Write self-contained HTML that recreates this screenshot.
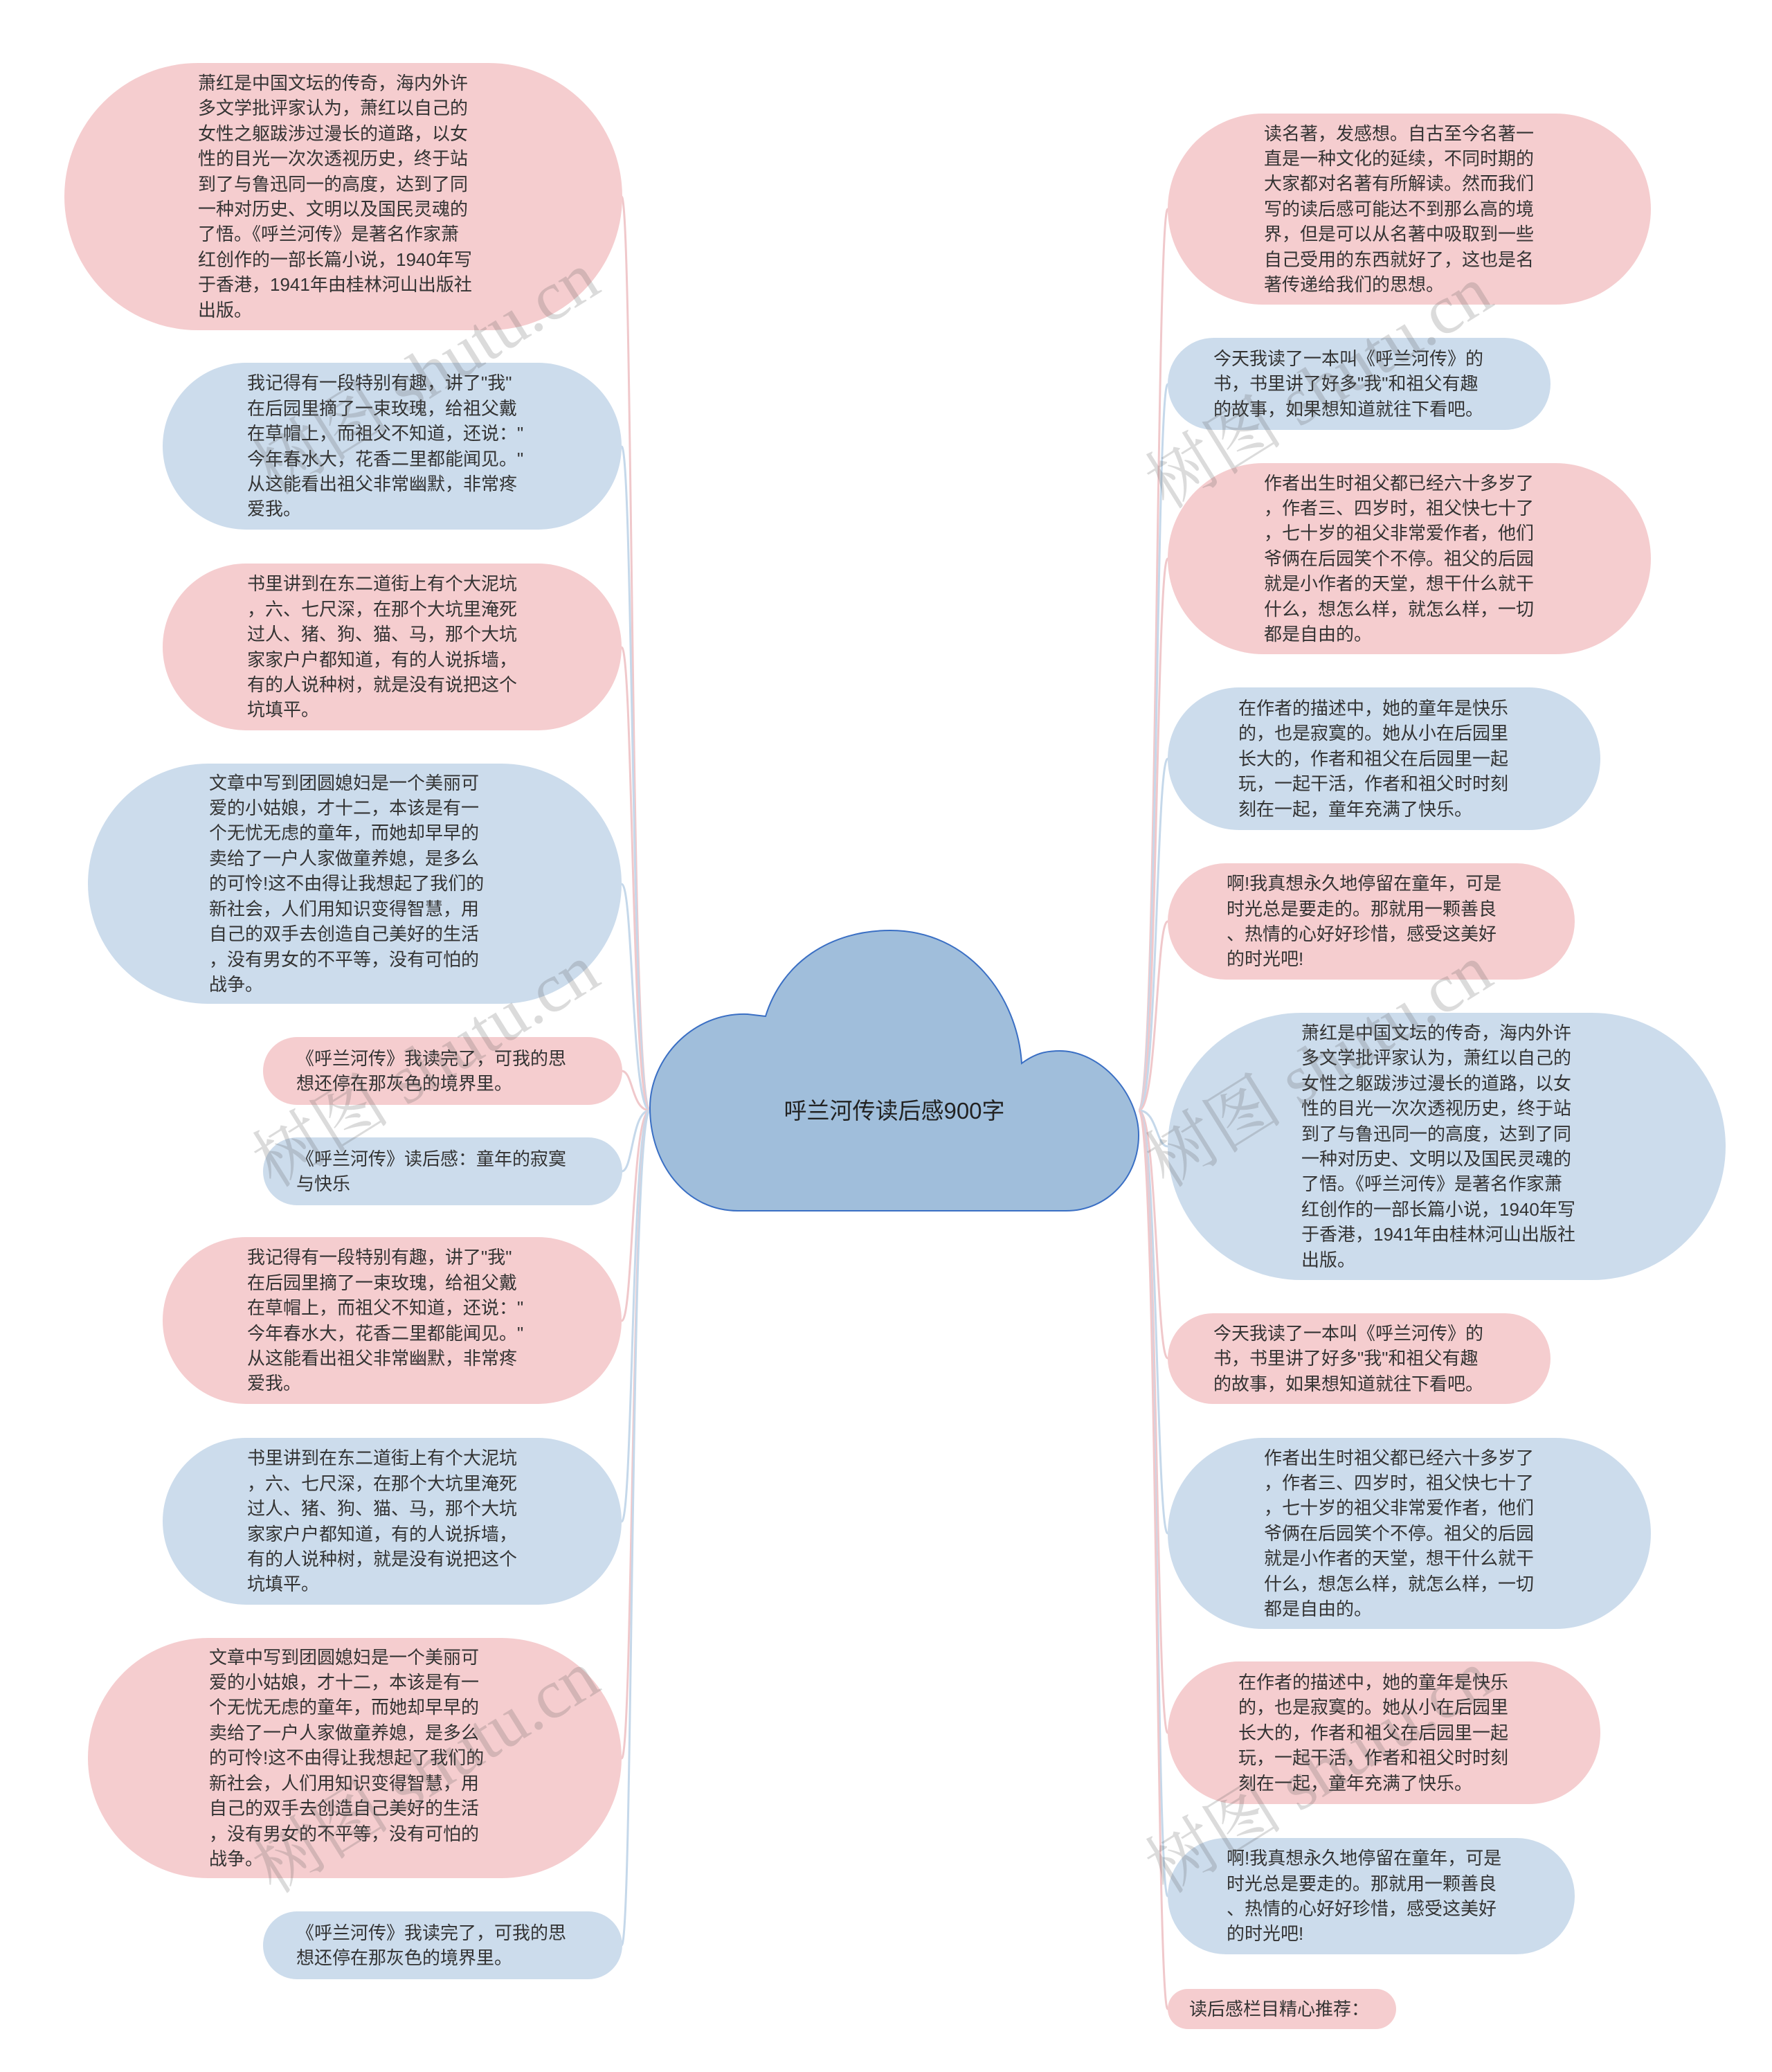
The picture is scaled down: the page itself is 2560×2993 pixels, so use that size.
<!DOCTYPE html>
<html><head><meta charset="utf-8"><style>
body{margin:0;width:2560px;height:2993px;background:#fff;position:relative;overflow:hidden;font-family:"Liberation Sans","Noto Sans CJK SC",sans-serif;}
.n{position:absolute;box-sizing:border-box;display:flex;align-items:center;white-space:nowrap;font-size:26px;line-height:36.4px;color:#333;border-radius:200px;}
.p{background:#f5cdcf;}
.b{background:#ccdcec;}
.wm{position:absolute;font-family:"Liberation Serif","Noto Serif CJK SC",serif;font-size:100px;color:rgba(90,90,90,0.22);transform:rotate(-32deg);white-space:nowrap;}
svg{position:absolute;left:0;top:0;}
</style></head><body>
<svg width="2560" height="2993">
<g fill="none" stroke-width="3">
<path d="M939 1604 C910 1604 915 284 898 284" stroke="#f0c8cb"/>
<path d="M939 1604 C912 1604 915 645 898 645" stroke="#c5d8ea"/>
<path d="M939 1604 C912 1604 915 935 898 935" stroke="#f0c8cb"/>
<path d="M939 1604 C912 1604 915 1277 898 1277" stroke="#c5d8ea"/>
<path d="M939 1604 C912 1604 915 1547 898 1547" stroke="#f0c8cb"/>
<path d="M939 1604 C912 1604 915 1692 898 1692" stroke="#c5d8ea"/>
<path d="M939 1604 C912 1604 915 1908 898 1908" stroke="#f0c8cb"/>
<path d="M939 1604 C912 1604 915 2198 898 2198" stroke="#c5d8ea"/>
<path d="M939 1604 C912 1604 915 2540 898 2540" stroke="#f0c8cb"/>
<path d="M939 1604 C910 1604 915 2810 898 2810" stroke="#c5d8ea"/>
<path d="M1645 1604 C1672 1604 1670 302 1687 302" stroke="#f0c8cb"/>
<path d="M1645 1604 C1672 1604 1670 555 1687 555" stroke="#c5d8ea"/>
<path d="M1645 1604 C1672 1604 1670 807 1687 807" stroke="#f0c8cb"/>
<path d="M1645 1604 C1672 1604 1670 1096 1687 1096" stroke="#c5d8ea"/>
<path d="M1645 1604 C1672 1604 1670 1331 1687 1331" stroke="#f0c8cb"/>
<path d="M1645 1604 C1672 1604 1670 1656 1687 1656" stroke="#c5d8ea"/>
<path d="M1645 1604 C1672 1604 1670 1962 1687 1962" stroke="#f0c8cb"/>
<path d="M1645 1604 C1672 1604 1670 2215 1687 2215" stroke="#c5d8ea"/>
<path d="M1645 1604 C1672 1604 1670 2503 1687 2503" stroke="#f0c8cb"/>
<path d="M1645 1604 C1672 1604 1670 2739 1687 2739" stroke="#c5d8ea"/>
<path d="M1645 1604 C1672 1604 1670 2902 1687 2902" stroke="#f0c8cb"/>
</g>
<path d="M1066 1749 C990 1749 939 1680 939 1600 C939 1530 1000 1462 1080 1465 L1106 1468 C1130 1390 1200 1344 1286 1344 C1400 1344 1470 1440 1476 1536 C1495 1522 1510 1518 1531 1518 C1590 1518 1645 1580 1645 1640 C1645 1700 1600 1749 1540 1749 Z" fill="#a0bedb" stroke="#3a6fc4" stroke-width="2"/>
<text x="1292" y="1616" text-anchor="middle" font-size="33" fill="#222" font-family="Liberation Sans, Noto Sans CJK SC, sans-serif">呼兰河传读后感900字</text>
</svg>

<div class="n p" style="left:93px;top:91px;width:806px;height:386px;padding-left:193px;"><div>萧红是中国文坛的传奇，海内外许<br>多文学批评家认为，萧红以自己的<br>女性之躯跋涉过漫长的道路，以女<br>性的目光一次次透视历史，终于站<br>到了与鲁迅同一的高度，达到了同<br>一种对历史、文明以及国民灵魂的<br>了悟。《呼兰河传》是著名作家萧<br>红创作的一部长篇小说，1940年写<br>于香港，1941年由桂林河山出版社<br>出版。</div></div>
<div class="n b" style="left:235px;top:524px;width:663px;height:241px;padding-left:122px;"><div>我记得有一段特别有趣，讲了"我"<br>在后园里摘了一束玫瑰，给祖父戴<br>在草帽上，而祖父不知道，还说："<br>今年春水大，花香二里都能闻见。"<br>从这能看出祖父非常幽默，非常疼<br>爱我。</div></div>
<div class="n p" style="left:235px;top:814px;width:663px;height:241px;padding-left:122px;"><div>书里讲到在东二道街上有个大泥坑<br>，六、七尺深，在那个大坑里淹死<br>过人、猪、狗、猫、马，那个大坑<br>家家户户都知道，有的人说拆墙，<br>有的人说种树，就是没有说把这个<br>坑填平。</div></div>
<div class="n b" style="left:127px;top:1103px;width:771px;height:347px;padding-left:175px;"><div>文章中写到团圆媳妇是一个美丽可<br>爱的小姑娘，才十二，本该是有一<br>个无忧无虑的童年，而她却早早的<br>卖给了一户人家做童养媳，是多么<br>的可怜!这不由得让我想起了我们的<br>新社会，人们用知识变得智慧，用<br>自己的双手去创造自己美好的生活<br>，没有男女的不平等，没有可怕的<br>战争。</div></div>
<div class="n p" style="left:380px;top:1498px;width:519px;height:98px;padding-left:48px;"><div>《呼兰河传》我读完了，可我的思<br>想还停在那灰色的境界里。</div></div>
<div class="n b" style="left:380px;top:1643px;width:519px;height:98px;padding-left:48px;"><div>《呼兰河传》读后感：童年的寂寞<br>与快乐</div></div>
<div class="n p" style="left:235px;top:1787px;width:663px;height:241px;padding-left:122px;"><div>我记得有一段特别有趣，讲了"我"<br>在后园里摘了一束玫瑰，给祖父戴<br>在草帽上，而祖父不知道，还说："<br>今年春水大，花香二里都能闻见。"<br>从这能看出祖父非常幽默，非常疼<br>爱我。</div></div>
<div class="n b" style="left:235px;top:2077px;width:663px;height:241px;padding-left:122px;"><div>书里讲到在东二道街上有个大泥坑<br>，六、七尺深，在那个大坑里淹死<br>过人、猪、狗、猫、马，那个大坑<br>家家户户都知道，有的人说拆墙，<br>有的人说种树，就是没有说把这个<br>坑填平。</div></div>
<div class="n p" style="left:127px;top:2366px;width:771px;height:347px;padding-left:175px;"><div>文章中写到团圆媳妇是一个美丽可<br>爱的小姑娘，才十二，本该是有一<br>个无忧无虑的童年，而她却早早的<br>卖给了一户人家做童养媳，是多么<br>的可怜!这不由得让我想起了我们的<br>新社会，人们用知识变得智慧，用<br>自己的双手去创造自己美好的生活<br>，没有男女的不平等，没有可怕的<br>战争。</div></div>
<div class="n b" style="left:380px;top:2761px;width:519px;height:98px;padding-left:48px;"><div>《呼兰河传》我读完了，可我的思<br>想还停在那灰色的境界里。</div></div>

<div class="n p" style="left:1687px;top:164px;width:698px;height:276px;padding-left:139px;"><div>读名著，发感想。自古至今名著一<br>直是一种文化的延续，不同时期的<br>大家都对名著有所解读。然而我们<br>写的读后感可能达不到那么高的境<br>界，但是可以从名著中吸取到一些<br>自己受用的东西就好了，这也是名<br>著传递给我们的思想。</div></div>
<div class="n b" style="left:1687px;top:488px;width:553px;height:133px;padding-left:66px;"><div>今天我读了一本叫《呼兰河传》的<br>书，书里讲了好多"我"和祖父有趣<br>的故事，如果想知道就往下看吧。</div></div>
<div class="n p" style="left:1687px;top:669px;width:698px;height:276px;padding-left:139px;"><div>作者出生时祖父都已经六十多岁了<br>，作者三、四岁时，祖父快七十了<br>，七十岁的祖父非常爱作者，他们<br>爷俩在后园笑个不停。祖父的后园<br>就是小作者的天堂，想干什么就干<br>什么，想怎么样，就怎么样，一切<br>都是自由的。</div></div>
<div class="n b" style="left:1687px;top:993px;width:625px;height:206px;padding-left:102px;"><div>在作者的描述中，她的童年是快乐<br>的，也是寂寞的。她从小在后园里<br>长大的，作者和祖父在后园里一起<br>玩，一起干活，作者和祖父时时刻<br>刻在一起，童年充满了快乐。</div></div>
<div class="n p" style="left:1687px;top:1247px;width:588px;height:168px;padding-left:85px;"><div>啊!我真想永久地停留在童年，可是<br>时光总是要走的。那就用一颗善良<br>、热情的心好好珍惜，感受这美好<br>的时光吧!</div></div>
<div class="n b" style="left:1687px;top:1463px;width:806px;height:386px;padding-left:193px;"><div>萧红是中国文坛的传奇，海内外许<br>多文学批评家认为，萧红以自己的<br>女性之躯跋涉过漫长的道路，以女<br>性的目光一次次透视历史，终于站<br>到了与鲁迅同一的高度，达到了同<br>一种对历史、文明以及国民灵魂的<br>了悟。《呼兰河传》是著名作家萧<br>红创作的一部长篇小说，1940年写<br>于香港，1941年由桂林河山出版社<br>出版。</div></div>
<div class="n p" style="left:1687px;top:1897px;width:553px;height:131px;padding-left:66px;"><div>今天我读了一本叫《呼兰河传》的<br>书，书里讲了好多"我"和祖父有趣<br>的故事，如果想知道就往下看吧。</div></div>
<div class="n b" style="left:1687px;top:2077px;width:698px;height:276px;padding-left:139px;"><div>作者出生时祖父都已经六十多岁了<br>，作者三、四岁时，祖父快七十了<br>，七十岁的祖父非常爱作者，他们<br>爷俩在后园笑个不停。祖父的后园<br>就是小作者的天堂，想干什么就干<br>什么，想怎么样，就怎么样，一切<br>都是自由的。</div></div>
<div class="n p" style="left:1687px;top:2400px;width:625px;height:206px;padding-left:102px;"><div>在作者的描述中，她的童年是快乐<br>的，也是寂寞的。她从小在后园里<br>长大的，作者和祖父在后园里一起<br>玩，一起干活，作者和祖父时时刻<br>刻在一起，童年充满了快乐。</div></div>
<div class="n b" style="left:1687px;top:2655px;width:588px;height:168px;padding-left:85px;"><div>啊!我真想永久地停留在童年，可是<br>时光总是要走的。那就用一颗善良<br>、热情的心好好珍惜，感受这美好<br>的时光吧!</div></div>
<div class="n p" style="left:1687px;top:2873px;width:330px;height:58px;padding-left:31px;"><div>读后感栏目精心推荐：</div></div>

<div class="wm" style="left:330px;top:460px;">树图 shutu.cn</div>
<div class="wm" style="left:330px;top:1460px;">树图 shutu.cn</div>
<div class="wm" style="left:330px;top:2480px;">树图 shutu.cn</div>
<div class="wm" style="left:1620px;top:480px;">树图 shutu.cn</div>
<div class="wm" style="left:1620px;top:1460px;">树图 shutu.cn</div>
<div class="wm" style="left:1620px;top:2480px;">树图 shutu.cn</div>
</body></html>
